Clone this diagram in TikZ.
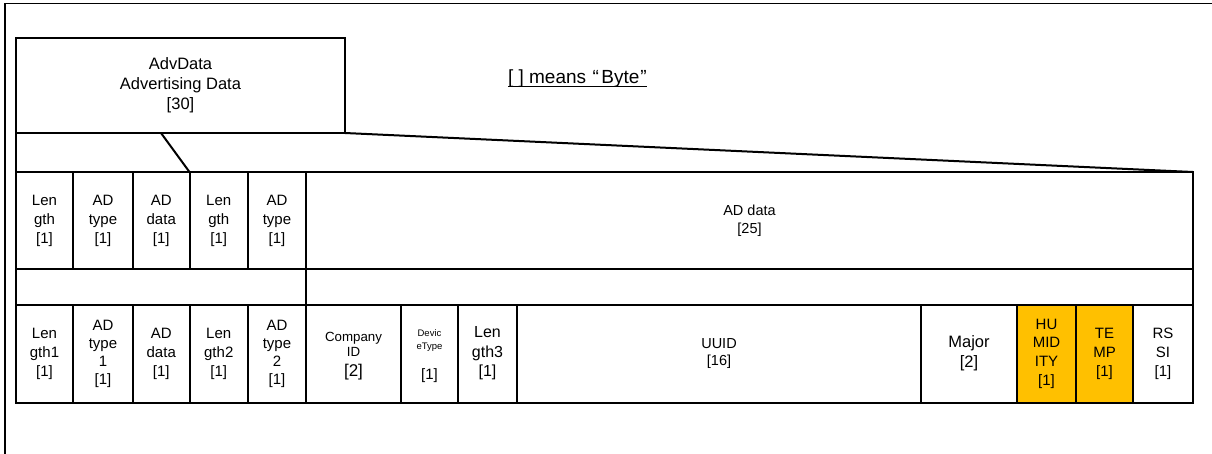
\documentclass[tikz,border=0pt]{standalone}
\usepackage{fontspec}
\setmainfont{Liberation Sans}
\definecolor{hl}{HTML}{FFC000}
\tikzset{
  cell/.style={draw, line width=2pt, inner sep=0pt, outer sep=0pt, align=center,
    font=\fontsize{15}{19}\selectfont},
  wide/.style={cell, font=\fontsize{14.5}{17.5}\selectfont},
  hot/.style={cell, fill=hl},
  txt/.style={inner sep=0pt, outer sep=0pt, anchor=base},
  wire/.style={line width=2pt}
}
\begin{document}
\begin{tikzpicture}[x=1pt,y=-1pt]
\useasboundingbox (0,0) rectangle (1212,453);
% outer frame (right and bottom edges fall outside the picture)
\draw[line width=1.8pt] (5.3,470) -- (5.3,3.5) -- (1230,3.5);

% AdvData box
\node[cell, minimum width=329pt, minimum height=95pt, font=\fontsize{16.5}{20}\selectfont] (adv) at (180.5,85.5) {AdvData\\Advertising Data\\{[30]}};

% note
\node[txt, anchor=base west, font=\fontsize{19}{22}\selectfont] (note) at (508,83) {[ ] means\hspace{6.5pt}“\hspace{2.5pt}Byte\hspace{1pt}”\hspace{1pt}};
\draw[line width=1.3pt] ([yshift=-3.8pt]note.base west) -- ([yshift=-3.8pt]note.base east);

% row 1 (y 172..269)
\node[cell, minimum width=57pt,   minimum height=97pt] (r1a) at (44.5,220.5)   {Len\\gth\\{[1]}};
\node[cell, minimum width=60pt,   minimum height=97pt] (r1b) at (103,220.5)    {AD\\type\\{[1]}};
\node[cell, minimum width=56.5pt, minimum height=97pt] (r1c) at (161.25,220.5) {AD\\data\\{[1]}};
\node[cell, minimum width=58.5pt, minimum height=97pt] (r1d) at (218.75,220.5) {Len\\gth\\{[1]}};
\node[cell, minimum width=58pt,   minimum height=97pt] (r1e) at (277,220.5)    {AD\\type\\{[1]}};
\node[wide, minimum width=887pt,  minimum height=97pt] (r1f) at (749.5,220.5)  {AD data\\{[25]}};

% gap row (y 269..304.5)
\node[cell, minimum width=290pt, minimum height=35.5pt] (g1) at (161,286.75) {};
\node[cell, minimum width=887pt, minimum height=35.5pt] (g2) at (749.5,286.75) {};

% row 2 (y 304.5..402.5)
\node[cell, minimum width=57pt,   minimum height=98pt] (r2a) at (44.5,353.5)   {Len\\gth1\\{[1]}};
\node[cell, minimum width=60pt,   minimum height=98pt, font=\fontsize{15}{18}\selectfont] (r2b) at (103,353.5) {AD\\type\\1\\{[1]}};
\node[cell, minimum width=56.5pt, minimum height=98pt] (r2c) at (161.25,353.5) {AD\\data\\{[1]}};
\node[cell, minimum width=58.5pt, minimum height=98pt] (r2d) at (218.75,353.5) {Len\\gth2\\{[1]}};
\node[cell, minimum width=58pt,   minimum height=98pt, font=\fontsize{15}{18}\selectfont] (r2e) at (277,353.5) {AD\\type\\2\\{[1]}};
\node[cell, minimum width=95pt,   minimum height=98pt] (r2f) at (353.5,353.5) {};
\node[txt, font=\fontsize{13.3}{15}\selectfont] (coA) at (353.5,341.7) {Company};
\node[txt, font=\fontsize{13.3}{15}\selectfont] (coB) at (353.5,356.7) {ID};
\node[txt, font=\fontsize{17}{20}\selectfont]   (coC) at (353.5,376.7) {[2]};
\node[cell, minimum width=57pt,   minimum height=98pt] (r2g) at (429.5,353.5) {};
\node[txt, font=\fontsize{9.5}{12}\selectfont] (dvA) at (429.5,336.7) {Devic};
\node[txt, font=\fontsize{9.5}{12}\selectfont] (dvB) at (429.5,349)   {eType};
\node[txt, font=\fontsize{15}{19}\selectfont]  (dvC) at (429.5,379)   {[1]};
\node[cell, minimum width=59pt,   minimum height=98pt, font=\fontsize{16}{19.5}\selectfont] (r2h) at (487.5,353.5) {Len\\gth3\\{[1]}};
\node[wide, minimum width=404pt,  minimum height=98pt] (r2i) at (719,353.5) {UUID\\{[16]}};
\node[cell, minimum width=96pt,   minimum height=98pt, font=\fontsize{16.5}{20}\selectfont] (r2j) at (969,353.5) {Major\\{[2]}};
\node[hot,  minimum width=59pt,   minimum height=98pt, font=\fontsize{15}{18.7}\selectfont] (r2k) at (1046.5,353.5) {HU\\MID\\ITY\\{[1]}};
\node[hot,  minimum width=57pt,   minimum height=98pt] (r2l) at (1104.5,353.5) {TE\\MP\\{[1]}};
\node[cell, minimum width=60pt,   minimum height=98pt] (r2m) at (1163,353.5) {RS\\SI\\{[1]}};

% zoom lines from AdvData box to row 1
\coordinate (split) at (161,133);
\draw[wire] (adv.south west) -- (r1a.north west);
\draw[wire] (split) -- (r1d.north west);
\draw[wire] (adv.south east) -- (r1f.north east);
\end{tikzpicture}
\end{document}
